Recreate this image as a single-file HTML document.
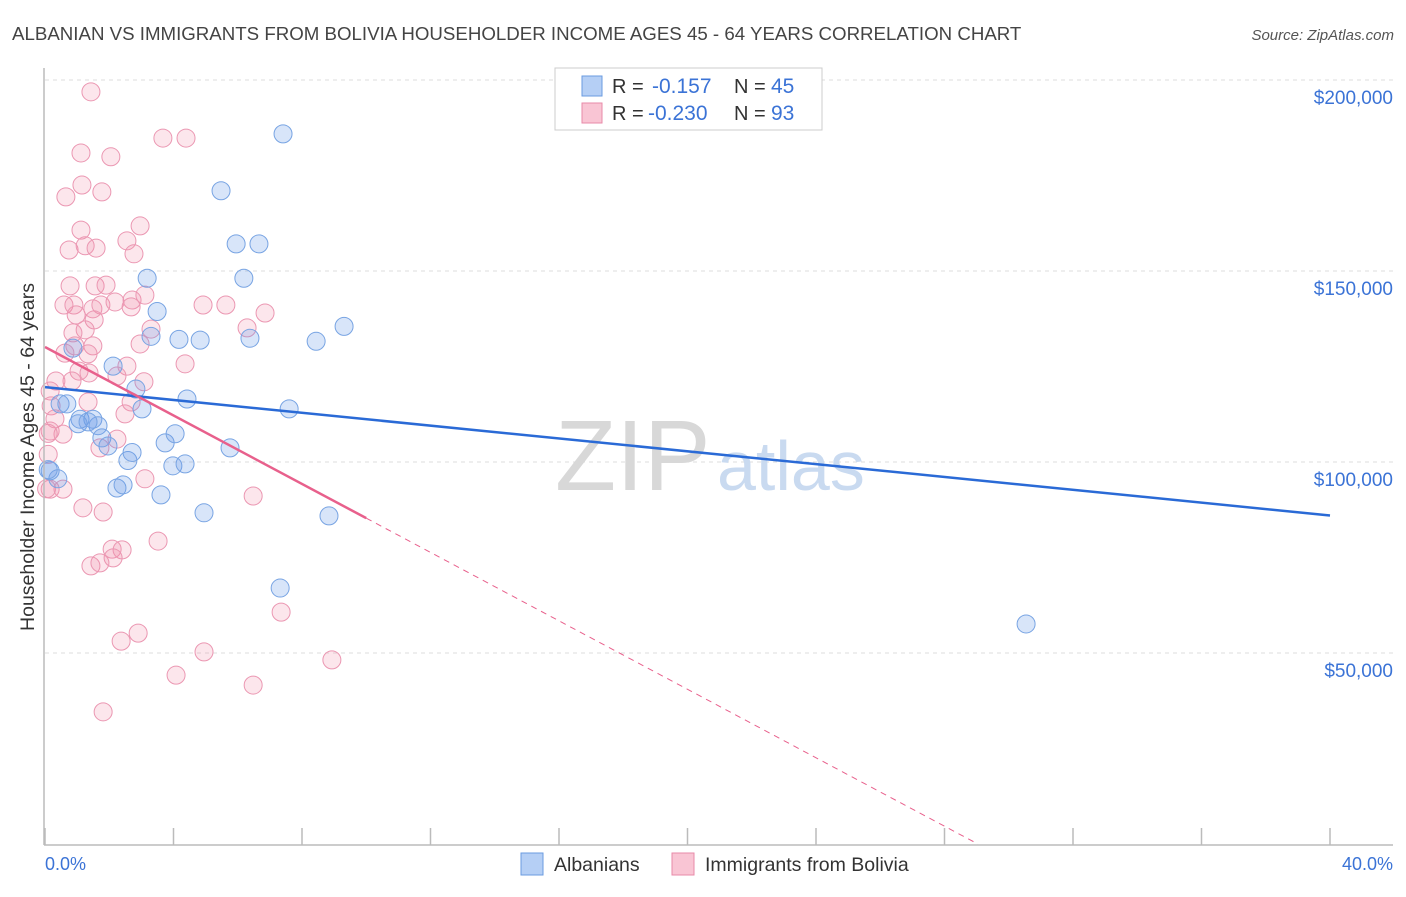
<!DOCTYPE html>
<html><head><meta charset="utf-8"><style>
body{margin:0;background:#fff;font-family:"Liberation Sans",sans-serif}
svg text{font-family:"Liberation Sans",sans-serif}
</style></head><body>
<svg id="c" width="1406" height="892" viewBox="0 0 1406 892" xmlns="http://www.w3.org/2000/svg">
<text x="12" y="40" font-size="18.7" fill="#444">ALBANIAN VS IMMIGRANTS FROM BOLIVIA HOUSEHOLDER INCOME AGES 45 - 64 YEARS CORRELATION CHART</text>
<text x="1394" y="40" font-size="15" fill="#555" font-style="italic" text-anchor="end">Source: ZipAtlas.com</text>
<g id="grid"></g>
<text x="555" y="490" font-size="100" fill="#d8d8d8" font-family="Liberation Serif">ZIP</text>
<text x="717" y="490" font-size="70" fill="#c9daf0">atlas</text>
<g id="pts"></g>
<g id="lines"></g>
<line x1="44" y1="68" x2="44" y2="845" stroke="#bbb" stroke-width="1.5"/>
<line x1="44" y1="845" x2="1393" y2="845" stroke="#bbb" stroke-width="1.5"/>
<g id="ticks"></g>
<text x="45" y="870" font-size="18" fill="#3b73d6">0.0%</text>
<text x="1393" y="870" font-size="18" fill="#3b73d6" text-anchor="end">40.0%</text>
<text transform="translate(34,457) rotate(-90)" font-size="19.5" fill="#333" text-anchor="middle">Householder Income Ages 45 - 64 years</text>
<g>
<rect x="555" y="68" width="267" height="62" fill="#fff" stroke="#ccc"/>
<rect x="582" y="76" width="20" height="20" fill="#b5cff5" stroke="#6a9be0"/>
<rect x="582" y="103" width="20" height="20" fill="#f9c5d4" stroke="#e88aa8"/>
<text x="612" y="93" font-size="20" fill="#333">R = <tspan fill="#3b73d6" x="652" font-size="21">-0.157</tspan><tspan x="734">N = </tspan><tspan fill="#3b73d6" x="771" font-size="21">45</tspan></text>
<text x="612" y="120" font-size="20" fill="#333">R = <tspan fill="#3b73d6" x="648" font-size="21">-0.230</tspan><tspan x="734">N = </tspan><tspan fill="#3b73d6" x="771" font-size="21">93</tspan></text>
</g>
<g><rect x="521" y="853" width="22" height="22" fill="#b5cff5" stroke="#6a9be0"/><text x="554" y="871" font-size="19.5" fill="#333">Albanians</text></g>
<g><rect x="672" y="853" width="22" height="22" fill="#f9c5d4" stroke="#e88aa8"/><text x="705" y="871" font-size="19.5" fill="#333">Immigrants from Bolivia</text></g>
</svg>
<script>
const yTicks=[50,100,150,200];
const yTickLabels=["$50,000","$100,000","$150,000","$200,000"];
const xTicks=[0,4,8,12,16,20,24,28,32,36,40];
const blueX=[7.41,5.48,5.95,6.66,3.18,6.19,3.49,3.30,4.17,4.83,6.38,8.44,9.31,2.12,0.87,2.83,4.42,7.60,3.02,0.47,0.68,1.09,1.49,1.65,1.03,1.77,1.96,3.74,4.05,5.76,2.58,2.71,3.98,4.36,0.16,0.40,2.24,2.43,3.61,4.95,8.84,7.32,30.54,1.34,0.1];
const blueY=[185.9,171.0,157.1,157.1,148.1,148.1,139.4,132.9,132.1,131.9,132.4,131.6,135.5,125.1,129.8,119.1,116.5,113.9,113.9,115.2,115.2,111.2,111.2,109.5,110.0,106.3,104.2,105.0,107.4,103.7,100.4,102.5,99.0,99.5,97.7,95.6,93.2,94.0,91.4,86.7,85.9,67.0,57.6,110.5,98];
const pinkX=[1.43,3.67,4.39,1.12,2.05,1.15,0.65,1.77,1.12,2.96,2.55,0.75,1.25,1.59,2.77,0.78,1.56,1.90,0.59,0.90,0.97,1.49,1.74,2.18,2.71,3.11,2.68,4.92,5.63,6.85,1.53,1.25,0.87,3.30,6.29,0.93,1.49,2.96,0.62,1.34,4.36,1.06,1.37,2.55,2.24,0.84,0.34,3.08,0.16,1.34,2.68,0.19,2.49,0.31,0.16,0.56,2.24,1.71,3.11,0.16,0.56,1.18,1.81,6.48,3.52,2.09,2.40,2.12,1.43,1.71,7.35,2.37,2.90,4.95,4.08,6.48,8.93,1.81,0.1,0.1,0.05];
const pinkY=[196.9,184.8,184.8,180.9,179.9,172.5,169.4,170.7,160.7,161.8,157.9,155.5,156.6,156.0,154.5,146.1,146.1,146.3,141.1,141.1,138.5,140.1,141.1,141.9,142.4,143.7,140.6,141.1,141.1,139.0,137.2,134.6,133.8,134.8,135.1,130.4,130.4,130.9,128.5,128.3,125.7,123.8,123.3,125.1,122.5,121.2,121.2,121.0,118.6,115.7,115.7,114.7,112.6,111.3,108.1,107.3,106.0,103.7,95.6,92.9,92.9,88.0,86.9,91.1,79.3,77.2,77.0,74.9,72.8,73.6,60.7,53.1,55.2,50.3,44.2,41.6,48.2,34.6,107.5,102,93];
const trendIntercept=[119.6,130.1];
const trendSlope=[-0.84,-4.48];
const X0=45,X1=1330,Y0=844,PXK=191/50;
const sx=v=>X0+(X1-X0)*v/40, sy=v=>Y0-v*PXK;
const NS="http://www.w3.org/2000/svg";
function mk(tag,attrs,parent){const e=document.createElementNS(NS,tag);for(const k in attrs)e.setAttribute(k,attrs[k]);parent.appendChild(e);return e;}
const grid=document.getElementById('grid');
yTicks.forEach((t,i)=>{
 const l=mk('line',{x1:45,x2:1393,y1:sy(t),y2:sy(t),stroke:'#ddd','stroke-dasharray':'4,4'},grid);
 
 
 const tx=mk('text',{x:1393,y:sy(t)+24,'font-size':19,fill:'#3b73d6','text-anchor':'end'},grid);
 tx.textContent=yTickLabels[i];
 
 
});
const ticks=document.getElementById('ticks');
xTicks.forEach(t=>{
 const l=mk('line',{x1:sx(t),x2:sx(t),y1:828,y2:845,stroke:'#bbb','stroke-width':1.5},ticks);
 
 
});
const pts=document.getElementById('pts');
pinkX.forEach((x,i)=>{
 const c=mk('circle',{cx:sx(x),cy:sy(pinkY[i]),r:9,fill:'rgba(240,140,170,0.22)',stroke:'#eb97b2','stroke-width':1},pts);
 
 
});
blueX.forEach((x,i)=>{
 const c=mk('circle',{cx:sx(x),cy:sy(blueY[i]),r:9,fill:'rgba(100,150,230,0.25)',stroke:'#78a4e3','stroke-width':1},pts);
 
 
});
const lines=document.getElementById('lines');
const bl=mk('line',{x1:sx(0),y1:sy(trendIntercept[0]),x2:sx(40),y2:sy(trendIntercept[0]+trendSlope[0]*40),stroke:'#2a6ad6','stroke-width':2.5},lines);


const pEnd=10, pZero=-trendIntercept[1]/trendSlope[1];
const pl=mk('line',{x1:sx(0),y1:sy(trendIntercept[1]),x2:sx(pEnd),y2:sy(trendIntercept[1]+trendSlope[1]*pEnd),stroke:'#e8608c','stroke-width':2.5},lines);


const pd=mk('line',{x1:sx(pEnd),y1:sy(trendIntercept[1]+trendSlope[1]*pEnd),x2:sx(pZero),y2:sy(0),stroke:'#e8608c','stroke-width':1,'stroke-dasharray':'6,5'},lines);


</script>
</body></html>
